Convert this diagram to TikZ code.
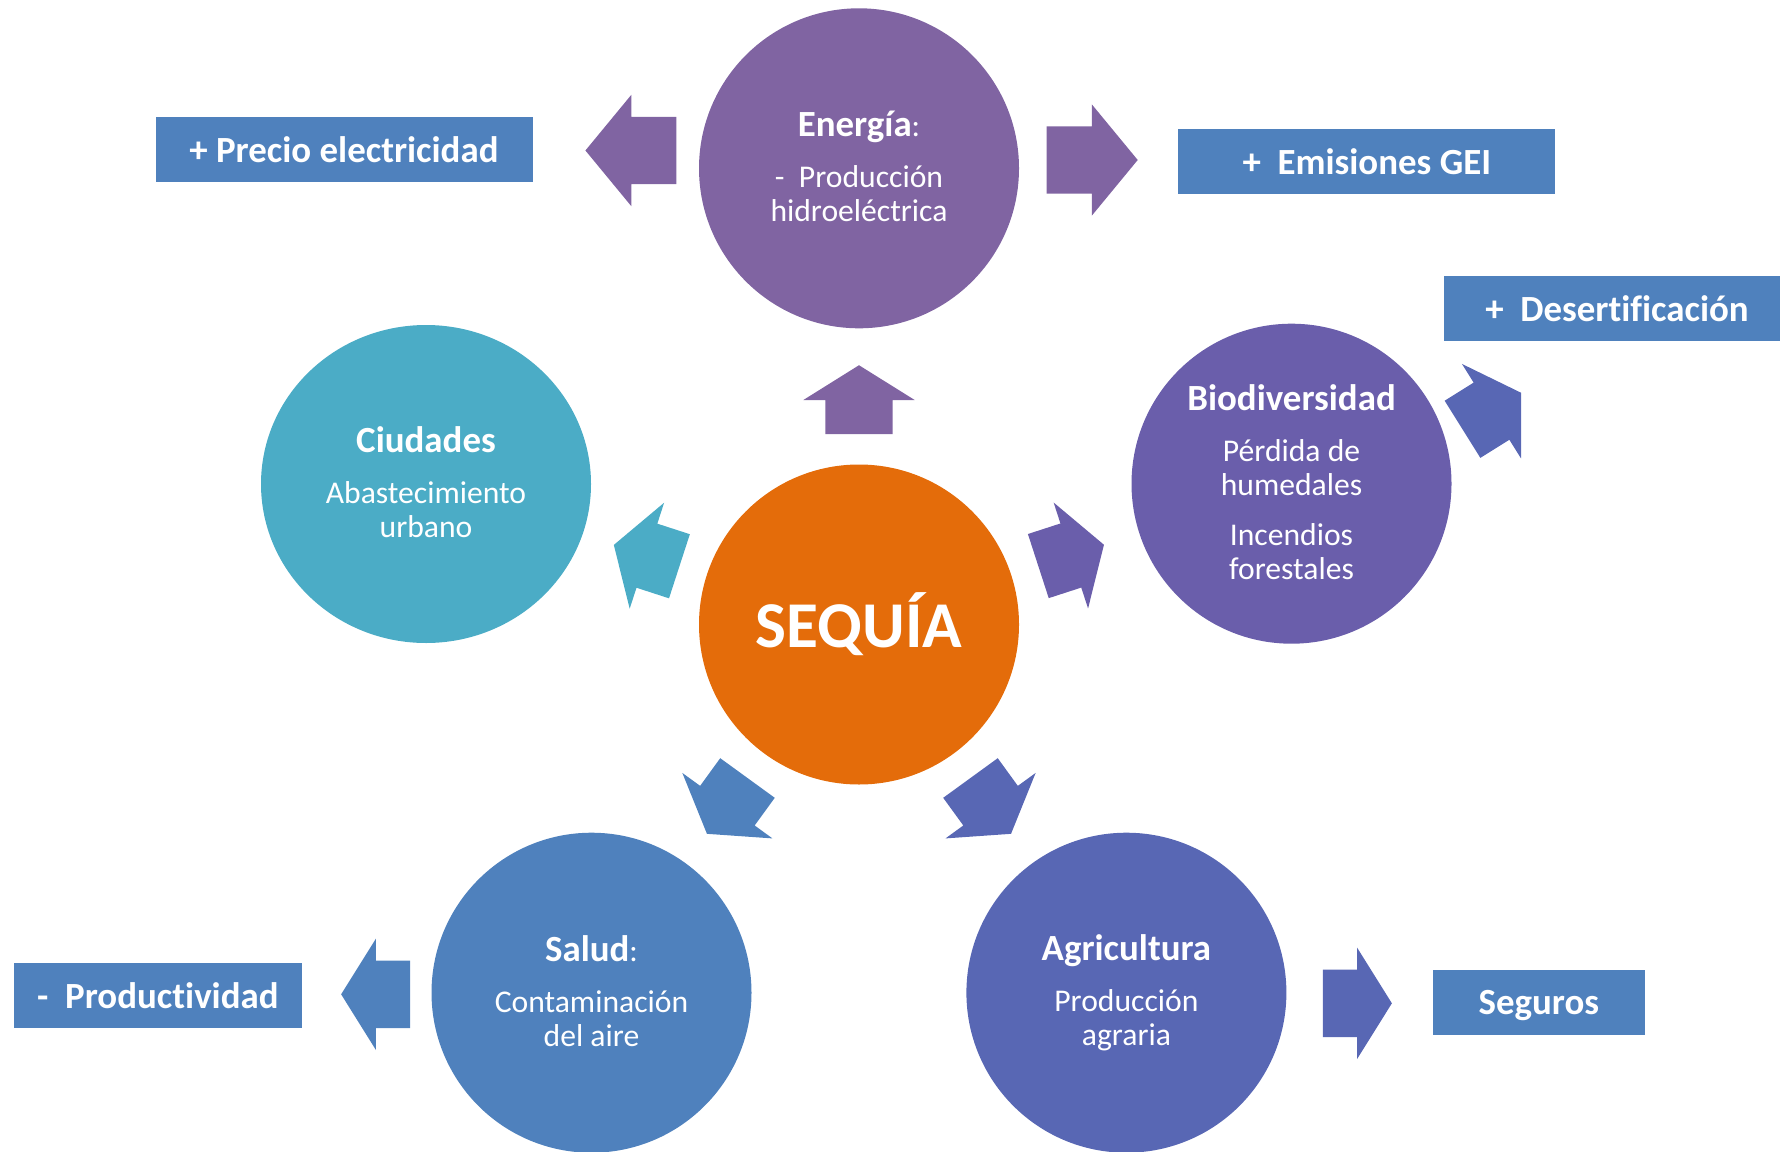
\documentclass[tikz,border=0pt]{standalone}
\usepackage{fontspec}
\setmainfont{Carlito}[Ligatures=NoCommon]
\usetikzlibrary{shapes.geometric,shapes.arrows,calc}

\definecolor{energiacol}{HTML}{8064A2}
\definecolor{sequiacol}{HTML}{E46C0A}
\definecolor{ciudadcol}{HTML}{4BACC6}
\definecolor{biodivcol}{HTML}{6A5EAB}
\definecolor{saludcol}{HTML}{4F81BD}
\definecolor{agricol}{HTML}{5867B4}
\definecolor{boxcol}{HTML}{4F81BD}

\newcommand\circtitle{\fontsize{10.5}{12}\selectfont\bfseries}
\newcommand\lowend{\rule[-1pt]{0pt}{0pt}}

\begin{document}
\begin{tikzpicture}[x=0.1mm,y=-0.1mm,
	bubble/.style={circle,minimum size=32mm,inner sep=0pt,text=white,align=center,font=\fontsize{9}{9.7}\selectfont},
	effect/.style={fill=boxcol,text=white,minimum height=6.5mm,inner sep=0pt,text depth=0pt,font=\fontsize{10.5}{12}\selectfont\bfseries},
	blockarrow/.style={single arrow,draw=none,anchor=tip,inner xsep=0pt,inner ysep=3.3mm,single arrow head extend=2.2mm,single arrow tip angle=116,minimum height=6.9mm},
	longarrow/.style={blockarrow,minimum height=9.1mm,single arrow tip angle=101}]
	\useasboundingbox (0,0) rectangle (1780,1151);

	% circles
	\node[bubble,fill=sequiacol,font=\fontsize{18.6}{20}\selectfont\bfseries] (sequia) at (859,624.5) {SEQUÍA};
	\node[bubble,fill=energiacol] (energia) at (859,168.3) {{\circtitle Energía}:\\[4.8pt] -\ \ Producción\\ hidroeléctrica\lowend};
	\node[bubble,ellipse,minimum width=33mm,minimum height=31.8mm,fill=ciudadcol] (ciudades) at (426,484) {{\circtitle Ciudades}\\[4.8pt] Abastecimiento\\ urbano\lowend};
	\node[bubble,fill=biodivcol] (biodiv) at (1291.5,483.7) {{\circtitle Biodiversidad}\\[4.8pt] Pérdida de\\ humedales\\[4.5pt] Incendios\\ forestales\lowend};
	\node[bubble,fill=saludcol] (salud) at (591.5,992.7) {{\circtitle Salud}:\\[4.8pt] Contaminación\\ del aire\lowend};
	\node[bubble,fill=agricol] (agri) at (1126.4,992.7) {{\circtitle Agricultura}\\[4.8pt] Producción\\ agraria};

	% effects
	\node[effect,minimum width=37.7mm] (precio) at (344,149.3) {+ Precio electricidad};
	\node[effect,minimum width=37.7mm] (emisiones) at (1366.8,161.8) {+~ Emisiones GEI};
	\node[effect,minimum width=34.6mm] (desert) at (1617,308.4) {+~ Desertificación};
	\node[effect,minimum width=28.8mm] (product) at (157.9,995.4) {-~ Productividad};
	\node[effect,minimum width=21.2mm] (seguros) at (1538.9,1002.4) {Seguros};

	% arrows out of the drought
	\node[blockarrow,fill=energiacol,rotate=90] (arrEner) at ($(sequia)!0.5!(energia)!3.2mm!(energia)$) {};
	\node[blockarrow,fill=ciudadcol,rotate=162] (arrCiud) at ($(sequia)!0.5!(ciudades)!3.1mm!(ciudades)$) {};
	\node[blockarrow,fill=biodivcol,rotate=18] (arrBio) at ($(sequia)!0.5!(biodiv)!3.1mm!(biodiv)$) {};
	\node[blockarrow,fill=saludcol,rotate=234] (arrSalud) at ($(sequia)!0.5!(salud)!3.2mm!(salud)$) {};
	\node[blockarrow,fill=agricol,rotate=306] (arrAgri) at ($(sequia)!0.5!(agri)!3.2mm!(agri)$) {};

	% arrows to the effects
	\node[longarrow,fill=energiacol,rotate=180] (arrPrecio) at (584.5,150.5) {};
	\node[longarrow,fill=energiacol] (arrEmis) at (1138.6,160) {};
	\node[blockarrow,fill=agricol,rotate=32] (arrDesert) at (1521.7,392.3) {};
	\node[blockarrow,fill=saludcol,rotate=180] (arrProd) at (340.3,994.3) {};
	\node[blockarrow,fill=agricol] (arrSeg) at (1392.7,1003.3) {};
\end{tikzpicture}
\end{document}
